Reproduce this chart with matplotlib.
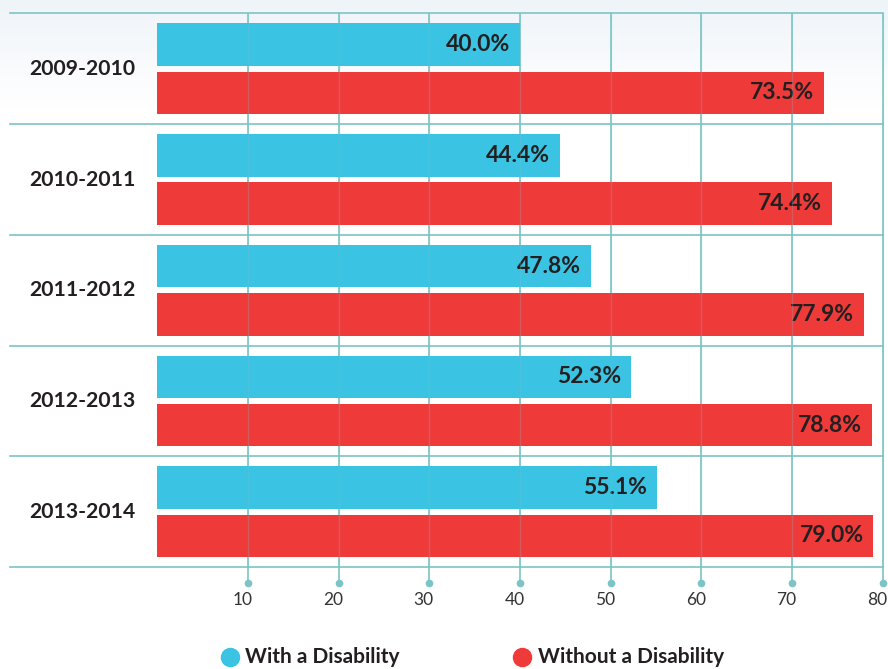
import matplotlib
matplotlib.use("Agg")
import matplotlib.pyplot as plt
import numpy as np
from matplotlib.transforms import blended_transform_factory

# ---- data ----
years = ["2009-2010", "2010-2011", "2011-2012", "2012-2013", "2013-2014"]
with_disability = [40.0, 44.4, 47.8, 52.3, 55.1]
without_disability = [73.5, 74.4, 77.9, 78.8, 79.0]
series_names = ["With a Disability", "Without a Disability"]
xticks = [10, 20, 30, 40, 50, 60, 70, 80]

CYAN = "#3AC3E2"
RED = "#EF3A3A"
GRID = "#7CC4C6"
TEXT = "#231F20"

plt.rcParams['font.family'] = ['Lato', 'DejaVu Sans']

fig = plt.figure(figsize=(8.88, 6.69), dpi=100)

# subtle background gradient at the top
bg = fig.add_axes([0, 0, 1, 1], zorder=-10)
grad = np.linspace(0, 1, 669)
top = np.array([0.937, 0.957, 0.976])
img = np.ones((669, 1, 3))
w = np.clip(1 - grad / 0.16, 0, 1)[:, None]
img[:, 0, :] = 1 - w * (1 - top)
bg.imshow(img, aspect='auto', extent=[0, 1, 0, 1], origin='upper')
bg.axis('off')

ax = fig.add_axes([10 / 888, 1 - 567 / 669, 873 / 888, (567 - 13.5) / 669])
ax.patch.set_alpha(0)

n = len(years)
y = np.arange(n)
h = 0.384
off = 0.218
ax.barh(y - off, with_disability, height=h, color=CYAN, zorder=2)
ax.barh(y + off, without_disability, height=h, color=RED, zorder=2)

for i in range(n):
    ax.text(with_disability[i] - 1.1, y[i] - off, f"{with_disability[i]:.1f}%",
            ha='right', va='center', fontsize=16.5, fontweight='bold', color=TEXT, zorder=3)
    ax.text(without_disability[i] - 1.1, y[i] + off, f"{without_disability[i]:.1f}%",
            ha='right', va='center', fontsize=16.5, fontweight='bold', color=TEXT, zorder=3)
    ax.text(-2.4, y[i], years[i], ha='right', va='center', fontsize=15.2,
            fontweight='bold', color=TEXT)

ax.set_xlim(-16.24, 80.05)
ax.set_ylim(n - 0.5, -0.5)

# horizontal separators
for b in np.arange(-0.5, n, 1.0):
    ax.axhline(b, color=GRID, lw=1.2, zorder=1, clip_on=False)

# vertical gridlines with dots below
trans = blended_transform_factory(ax.transData, ax.transAxes)
ybot = -16 / 553.5
for t in xticks:
    ax.plot([t, t], [ybot, 1], color=GRID, lw=1.2, transform=trans, clip_on=False, zorder=1)
    ax.plot([t, t], [0, 1], color=GRID, lw=1.0, alpha=0.25, transform=trans, clip_on=False, zorder=4)
    ax.plot([t], [ybot], marker='o', ms=4.5, color=GRID, transform=trans, clip_on=False)
    ax.text(t - 0.6, -33 / 553.5, str(t), transform=trans, ha='center', va='center',
            fontsize=12.5, color="#333333")

ax.set_xticks([])
ax.set_yticks([])
for s in ax.spines.values():
    s.set_visible(False)

# legend
fy = 1 - 657 / 669
fig.lines.append(plt.Line2D([230 / 888], [fy], marker='o', ms=13, color=CYAN,
                            transform=fig.transFigure, linestyle='none'))
fig.lines.append(plt.Line2D([522 / 888], [fy], marker='o', ms=13, color=RED,
                            transform=fig.transFigure, linestyle='none'))
fig.text(245 / 888, fy, series_names[0], ha='left', va='center', fontsize=15,
         fontweight='bold', color=TEXT)
fig.text(538 / 888, fy, series_names[1], ha='left', va='center', fontsize=15,
         fontweight='bold', color=TEXT)

fig.savefig("out.png", dpi=100)
